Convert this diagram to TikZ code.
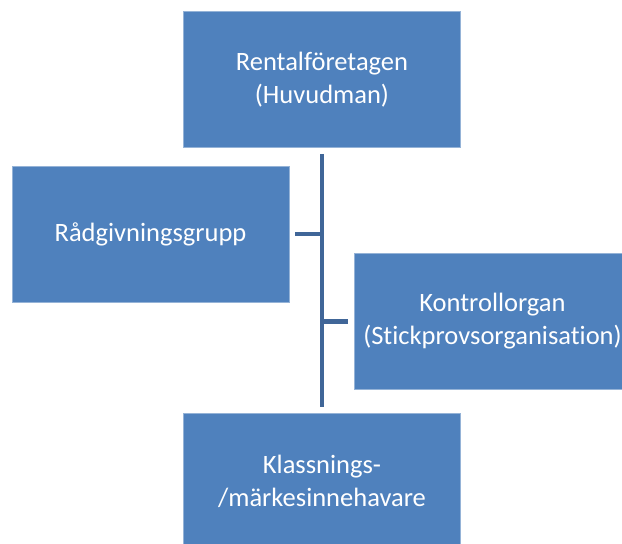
\documentclass[tikz,border=0pt]{standalone}
\usepackage{fontspec}
\setmainfont{Carlito}[Ligatures=NoCommon]
\usetikzlibrary{calc}
\definecolor{boxblue}{RGB}{79,129,189}
\definecolor{lineblue}{RGB}{64,102,152}
\tikzset{
	orgbox/.style={rectangle, fill=boxblue, draw=boxblue!60!white, line width=0.6pt,
		minimum width=277pt, minimum height=136pt, text=white, align=center,
		font=\fontsize{26.5}{33}\selectfont, inner sep=0pt},
	trunk/.style={lineblue, line width=4.5pt}
}
\begin{document}
\begin{tikzpicture}[x=1pt,y=-1pt]
	\useasboundingbox (0,0) rectangle (622,544);
	\clip (0,0) rectangle (622,544);
	
	% boxes
	\node[orgbox] (huvud) at (322,79.5) {Rentalföretagen\\(Huvudman)};
	\node[orgbox] (rad) at (150.5,234) {Rådgivningsgrupp};
	\node[orgbox] (kontroll) at (492.5,321.5) {Kontrollorgan\\(Stickprovsorganisation)};
	\node[orgbox] (klass) at (322,481) {Klassnings-\\/märkesinnehavare};
	
	% lines
	\draw[trunk] ([yshift=-6pt]huvud.south) -- ([yshift=6pt]klass.north);
	\draw[trunk] ([xshift=6pt]rad.east) -- (rad.east -| huvud.south);
	\draw[trunk] ([xshift=-6pt]kontroll.west) -- (kontroll.west -| huvud.south);
	
\end{tikzpicture}
\end{document}
